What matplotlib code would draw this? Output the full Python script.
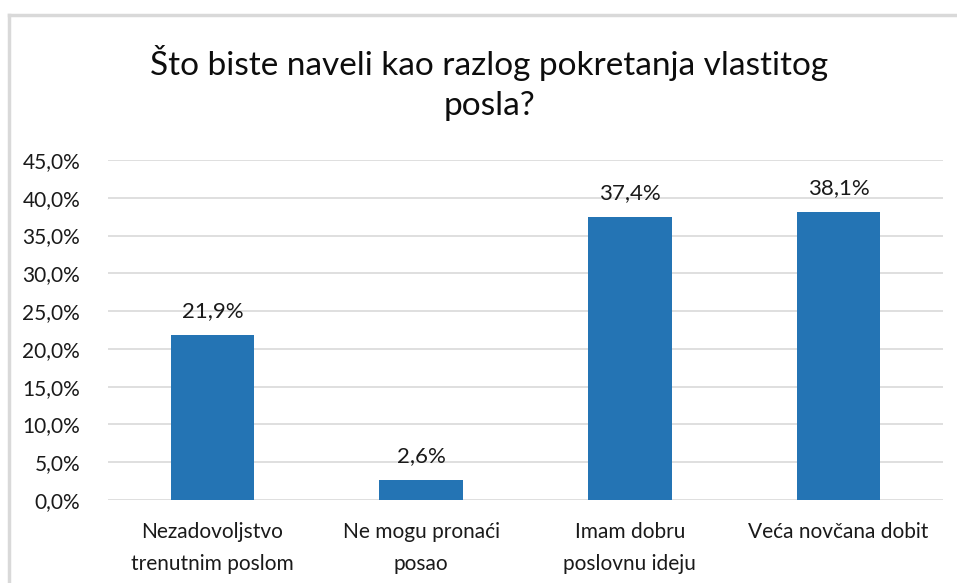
import matplotlib.pyplot as plt
from matplotlib.lines import Line2D
from matplotlib.ticker import FuncFormatter

categories = ["Nezadovoljstvo\ntrenutnim poslom", "Ne mogu pronaći\nposao",
              "Imam dobru\nposlovnu ideju", "Veća novčana dobit"]
values = [21.9, 2.6, 37.4, 38.1]
title = "Što biste naveli kao razlog pokretanja vlastitog\nposla?"

plt.rcParams['font.family'] = ['Lato', 'DejaVu Sans']
text_color = '#1a1a1a'

fig = plt.figure(figsize=(9.57, 5.83), dpi=100)
ax = fig.add_axes([108 / 957, 1 - 500 / 583, 835 / 957, 340 / 583])

x = range(len(categories))
ax.bar(x, values, width=0.4, color='#2474b4', zorder=3)
for xi, v in zip(x, values):
    ax.annotate(f"{v:.1f}%".replace('.', ','), (xi, v), xytext=(0, 10),
                textcoords='offset points', ha='center', va='bottom',
                fontsize=16, color=text_color)

ax.set_xlim(-0.5, 3.5)
ax.set_ylim(0, 45)
ax.set_yticks(range(0, 46, 5))
ax.yaxis.set_major_formatter(FuncFormatter(lambda v, p: f"{v:.1f}%".replace('.', ',')))
ax.set_xticks(list(x))
ax.set_xticklabels(categories, fontsize=15, color=text_color, linespacing=1.75)
ax.tick_params(axis='y', labelsize=15, colors=text_color, length=0, pad=20)
ax.tick_params(axis='x', length=0, pad=16)
ax.grid(axis='y', color='#d9d9d9', linewidth=1.2, zorder=0)
for s in ax.spines.values():
    s.set_visible(False)

fig.text(489 / 957, 1 - 83 / 583, title, ha='center', va='center',
         fontsize=24, color='#0d0d0d', linespacing=1.4)

# chart border
fig.add_artist(Line2D([9 / 957, 9 / 957], [0, 1 - 15 / 583], color='#d9d9d9', linewidth=2.5))
fig.add_artist(Line2D([9 / 957, 1], [1 - 15 / 583, 1 - 15 / 583], color='#d9d9d9', linewidth=2.5))

plt.savefig("out.png", dpi=100)
